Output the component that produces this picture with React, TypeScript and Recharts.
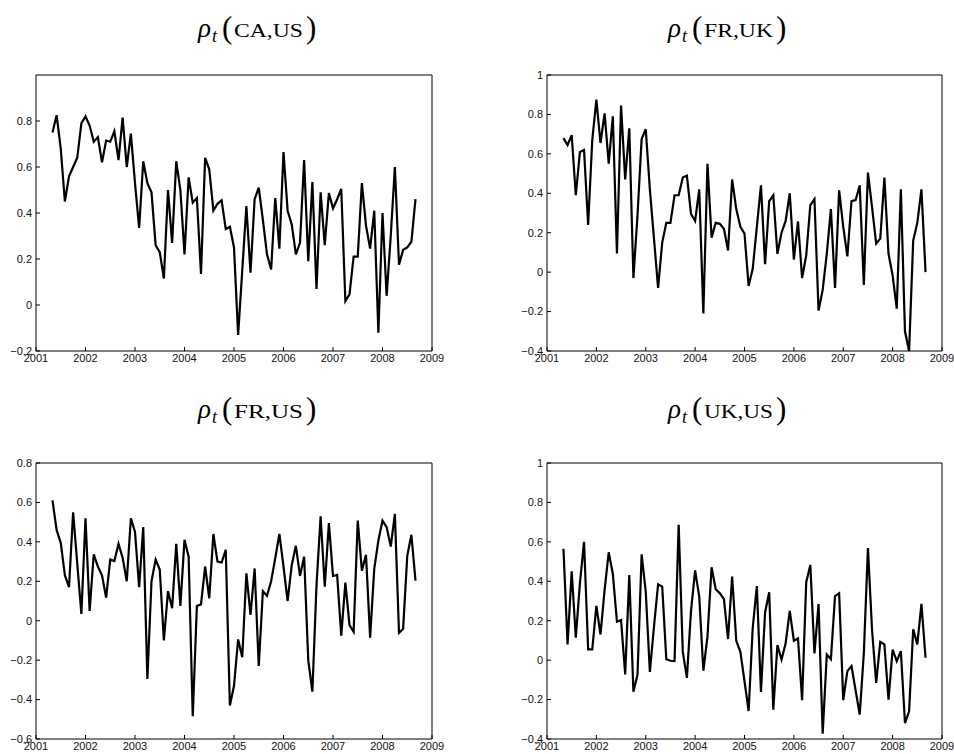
import React from 'react';
import { LineChart, Line, XAxis, YAxis } from 'recharts';

// monthly observations, first one is May 2001 (month index 4 from Jan 2001)
const firstMonthIndex = 4;
const yearTicks = [2001, 2002, 2003, 2004, 2005, 2006, 2007, 2008, 2009];

const caUs = [
  0.75, 0.825, 0.68, 0.45, 0.56, 0.6, 0.64, 0.79, 0.82, 0.78, 0.71, 0.73, 0.62, 0.715, 0.71, 0.755,
  0.63, 0.815, 0.6, 0.745, 0.53, 0.335, 0.625, 0.53, 0.49, 0.26, 0.23, 0.115, 0.5, 0.27, 0.625, 0.5,
  0.22, 0.555, 0.445, 0.465, 0.135, 0.64, 0.59, 0.41, 0.44, 0.455, 0.33, 0.34, 0.25, -0.13, 0.15, 0.43,
  0.14, 0.46, 0.51, 0.37, 0.22, 0.155, 0.465, 0.245, 0.665, 0.41, 0.35, 0.22, 0.27, 0.63, 0.19, 0.535,
  0.07, 0.49, 0.26, 0.487, 0.42, 0.46, 0.505, 0.017, 0.046, 0.21, 0.21, 0.53, 0.345, 0.245, 0.41, -0.12,
  0.4, 0.04, 0.3, 0.6, 0.175, 0.24, 0.25, 0.275, 0.46,
];

const frUk = [
  0.68, 0.645, 0.695, 0.39, 0.61, 0.62, 0.24, 0.67, 0.875, 0.655, 0.805, 0.55, 0.79, 0.095, 0.845, 0.47,
  0.73, -0.03, 0.29, 0.675, 0.725, 0.42, 0.17, -0.08, 0.15, 0.25, 0.25, 0.39, 0.39, 0.48, 0.49, 0.295,
  0.26, 0.42, -0.21, 0.55, 0.175, 0.25, 0.245, 0.22, 0.11, 0.47, 0.32, 0.23, 0.195, -0.07, 0.017, 0.23,
  0.44, 0.04, 0.36, 0.39, 0.093, 0.2, 0.26, 0.4, 0.064, 0.257, -0.03, 0.085, 0.34, 0.37, -0.195, -0.09,
  0.093, 0.32, -0.08, 0.415, 0.23, 0.08, 0.36, 0.365, 0.44, -0.065, 0.505, 0.33, 0.145, 0.17, 0.48, 0.093,
  -0.017, -0.185, 0.42, -0.3, -0.4, 0.16, 0.25, 0.42, 0.0,
];

const frUs = [
  0.61, 0.46, 0.395, 0.23, 0.17, 0.55, 0.29, 0.034, 0.52, 0.05, 0.337, 0.275, 0.23, 0.117, 0.31, 0.303,
  0.39, 0.32, 0.2, 0.52, 0.45, 0.17, 0.475, -0.295, 0.2, 0.31, 0.26, -0.1, 0.15, 0.063, 0.39, 0.075,
  0.41, 0.325, -0.485, 0.075, 0.083, 0.275, 0.114, 0.44, 0.3, 0.295, 0.36, -0.43, -0.33, -0.095, -0.185, 0.24,
  0.03, 0.265, -0.23, 0.15, 0.127, 0.2, 0.317, 0.44, 0.275, 0.1, 0.283, 0.38, 0.227, 0.325, -0.2, -0.36,
  0.18, 0.53, 0.173, 0.495, 0.227, 0.232, -0.076, 0.193, -0.022, -0.056, 0.508, 0.254, 0.334, -0.086, 0.263, 0.407,
  0.508, 0.475, 0.376, 0.542, -0.061, -0.042, 0.329, 0.436, 0.203,
];

const ukUs = [
  0.565, 0.08, 0.45, 0.114, 0.39, 0.6, 0.055, 0.055, 0.275, 0.13, 0.356, 0.547, 0.437, 0.195, 0.203, -0.073,
  0.432, -0.16, -0.073, 0.537, 0.347, -0.06, 0.17, 0.385, 0.373, 0.005, -0.003, -0.005, 0.686, 0.042, -0.09, 0.25,
  0.455, 0.322, -0.054, 0.119, 0.471, 0.36, 0.34, 0.31, 0.107, 0.424, 0.098, 0.042, -0.107, -0.258, 0.164, 0.376,
  -0.161, 0.242, 0.344, -0.251, 0.076, 0.003, 0.085, 0.25, 0.098, 0.11, -0.203, 0.395, 0.483, 0.034, 0.285, -0.373,
  0.029, 0.005, 0.325, 0.339, -0.203, -0.056, -0.03, -0.153, -0.276, 0.034, 0.568, 0.153, -0.115, 0.093, 0.08, -0.2,
  0.054, -0.005, 0.046, -0.319, -0.26, 0.156, 0.08, 0.285, 0.012,
];

const ticksCaUs = [-0.2, 0, 0.2, 0.4, 0.6, 0.8];
const ticksFrUk = [-0.4, -0.2, 0, 0.2, 0.4, 0.6, 0.8, 1];
const ticksFrUs = [-0.6, -0.4, -0.2, 0, 0.2, 0.4, 0.6, 0.8];
const ticksUkUs = [-0.4, -0.2, 0, 0.2, 0.4, 0.6, 0.8, 1];

const toRows = (values: number[]) =>
  values.map((v, i) => ({ t: 2001 + (firstMonthIndex + i) / 12, v }));

const tickFont = { fontSize: 11, fontFamily: '"Liberation Sans", Arial, sans-serif', fill: '#111' };
const fmt = (v: number) => (v < 0 ? '\u2212' + Math.abs(v) : String(v));

interface PanelProps {
  values: number[];
  yDomain: [number, number];
  yTicks: number[];
  left: number;
  top: number;
  margin: { top: number; right: number; bottom: number; left: number };
}

// axes are 1px wide/high (0 would not render), margins already account for that
const Panel: React.FC<PanelProps> = ({ values, yDomain, yTicks, left, top, margin }) => {
  const rows = toRows(values);
  return (
    <div style={{ position: 'absolute', left, top }}>
      <LineChart width={477} height={377} data={rows} margin={margin}>
        <XAxis
          xAxisId="bottom"
          dataKey="t"
          type="number"
          domain={[2001, 2009]}
          ticks={yearTicks}
          height={1}
          tickSize={-4}
          tickMargin={7}
          axisLine={{ stroke: '#000' }}
          tickLine={{ stroke: '#000' }}
          tick={tickFont}
          interval={0}
        />
        <XAxis
          xAxisId="top"
          orientation="top"
          dataKey="t"
          type="number"
          domain={[2001, 2009]}
          ticks={yearTicks}
          height={1}
          tickSize={-4}
          axisLine={{ stroke: '#000' }}
          tickLine={{ stroke: '#000' }}
          tick={false}
          interval={0}
        />
        <YAxis
          yAxisId="left"
          type="number"
          domain={yDomain}
          ticks={yTicks}
          width={1}
          tickSize={-4}
          tickMargin={8}
          axisLine={{ stroke: '#000' }}
          tickLine={{ stroke: '#000' }}
          tick={tickFont}
          tickFormatter={fmt}
          interval={0}
        />
        <YAxis
          yAxisId="right"
          orientation="right"
          type="number"
          domain={yDomain}
          ticks={yTicks}
          width={1}
          tickSize={-4}
          axisLine={{ stroke: '#000' }}
          tickLine={{ stroke: '#000' }}
          tick={false}
          interval={0}
        />
        <Line
          xAxisId="bottom"
          yAxisId="left"
          type="linear"
          dataKey="v"
          stroke="#000"
          strokeWidth={2.2}
          dot={false}
          activeDot={false}
          isAnimationActive={false}
        />
      </LineChart>
    </div>
  );
};

const Title: React.FC<{ x: number; y: number; pair: string }> = ({ x, y, pair }) => (
  <g fontFamily='"Liberation Serif", "Times New Roman", serif' fill="#000">
    <text x={x} y={y} fontSize={27} fontStyle="italic">ρ</text>
    <text x={x + 14} y={y + 5} fontSize={18} fontStyle="italic">t</text>
    <text x={x + 24} y={y + 1} fontSize={31}>(</text>
    <text x={x + 36} y={y} fontSize={19} textLength={69} lengthAdjust="spacingAndGlyphs">{pair}</text>
    <text x={x + 108} y={y + 1} fontSize={31}>)</text>
  </g>
);

const App: React.FC = () => (
  <div style={{ position: 'absolute', left: 0, top: 0, width: 954, height: 754, background: '#fff', overflow: 'hidden' }}>
    <Panel values={caUs} yDomain={[-0.2, 1]} yTicks={ticksCaUs} left={0} top={0}
      margin={{ top: 74, right: 44, bottom: 25, left: 35 }} />
    <Panel values={frUk} yDomain={[-0.4, 1]} yTicks={ticksFrUk} left={477} top={0}
      margin={{ top: 74, right: 11, bottom: 25, left: 69 }} />
    <Panel values={frUs} yDomain={[-0.6, 0.8]} yTicks={ticksFrUs} left={0} top={377}
      margin={{ top: 85, right: 44, bottom: 14, left: 35 }} />
    <Panel values={ukUs} yDomain={[-0.4, 1]} yTicks={ticksUkUs} left={477} top={377}
      margin={{ top: 85, right: 11, bottom: 14, left: 69 }} />
    <svg width={954} height={754} style={{ position: 'absolute', left: 0, top: 0, pointerEvents: 'none' }}>
      <Title x={198} y={37} pair="CA,US" />
      <Title x={668} y={37} pair="FR,UK" />
      <Title x={198} y={418} pair="FR,US" />
      <Title x={668} y={418} pair="UK,US" />
    </svg>
  </div>
);

export default App;
